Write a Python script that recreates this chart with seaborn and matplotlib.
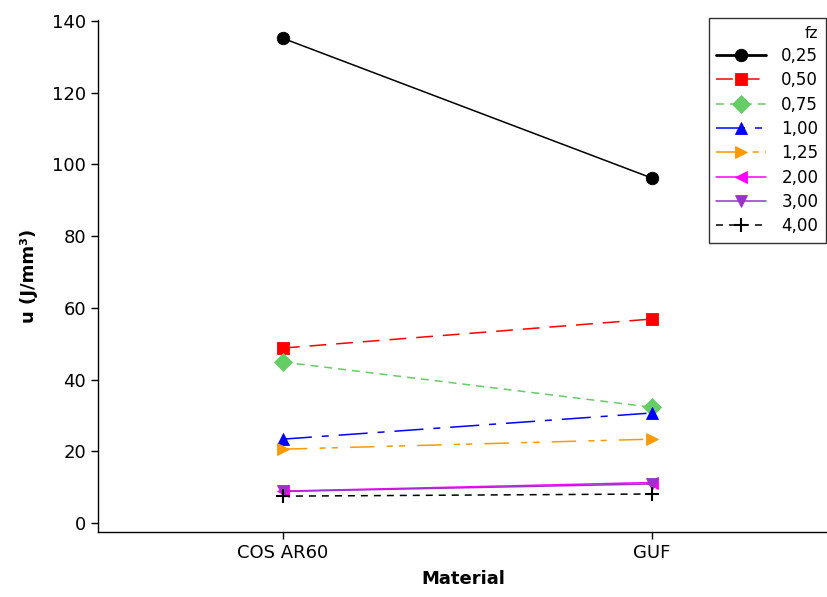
import matplotlib
matplotlib.use("Agg")
import matplotlib.pyplot as plt
import seaborn as sns
import pandas as pd
from matplotlib.lines import Line2D

materials = ["COS AR60", "GUF"]
fz_levels = ["0,25", "0,50", "0,75", "1,00", "1,25", "2,00", "3,00", "4,00"]
u_cos = [135.2, 48.8, 44.9, 23.4, 20.6, 8.9, 8.8, 7.5]
u_guf = [96.2, 56.9, 32.3, 30.7, 23.4, 11.3, 10.9, 8.1]

colors = ["#000000", "#FF0000", "#66CC66", "#0000FF", "#FF9900", "#FF00FF", "#9933CC", "#000000"]
markers = ["o", "s", "D", "^", ">", "<", "v", "+"]
dashes = ["", (11, 6.5), (5.2, 3.9), (19, 6.5, 4.6, 6.5), (16, 8, 4, 4, 4, 8), "", "", (4.6, 3.9)]

rows = []
for lvl, a, b in zip(fz_levels, u_cos, u_guf):
    rows.append({"Material": materials[0], "fz": lvl, "u": a})
    rows.append({"Material": materials[1], "fz": lvl, "u": b})
df = pd.DataFrame(rows)

sns.set_style("white")
plt.rcParams["font.family"] = ["DejaVu Sans"]
plt.rcParams["text.color"] = "black"
plt.rcParams["axes.labelcolor"] = "black"
plt.rcParams["xtick.color"] = "black"
plt.rcParams["ytick.color"] = "black"

fig = plt.figure(figsize=(8.28, 5.97), dpi=100)
ax = fig.add_axes([98 / 828, (597 - 532) / 597, (828 - 98) / 828, (532 - 20) / 597])

LW = 1.1
for lvl, c, m, d in zip(fz_levels, colors, markers, dashes):
    sub = df[df["fz"] == lvl]
    ls = "-" if d == "" else (0, d)
    sns.lineplot(
        data=sub, x="Material", y="u", color=c, marker=m,
        markersize=10 if m == "+" else 9,
        markeredgewidth=1.5 if m == "+" else 0.6,
        markeredgecolor=c, linewidth=LW, linestyle=ls,
        ax=ax, legend=False,
    )

ax.set_xlim(-0.501, 1.477)
ax.set_ylim(-2.5, 140.3)
ax.set_yticks(range(0, 141, 20))
ax.set_xticks([0, 1])
ax.set_xticklabels(materials)
for s in ["top", "right"]:
    ax.spines[s].set_visible(False)
for s in ["left", "bottom"]:
    ax.spines[s].set_color("black")
    ax.spines[s].set_linewidth(1.0)
ax.tick_params(axis="both", which="major", length=5, width=1, color="black",
               labelcolor="black", labelsize=13, direction="out", left=True, bottom=True)
ax.set_xlabel("Material", fontsize=13, fontweight="bold", labelpad=6, color="black")
ax.set_ylabel("u (J/mm³)", fontsize=13, fontweight="bold", labelpad=10, color="black")

# legend handles built from the same style lists
handles = []
for lvl, c, m, d in zip(fz_levels, colors, markers, dashes):
    lw = 2.0 if lvl == "0,25" else LW
    h = Line2D([0], [0], color=c, marker=m, markersize=10 if m == "+" else 9,
               linewidth=lw, linestyle="-" if d == "" else (0, d),
               markeredgewidth=1.5 if m == "+" else 0.6,
               markeredgecolor=c)
    handles.append(h)
leg = fig.legend(handles, fz_levels, title="fz", loc="upper right",
                 bbox_to_anchor=(826 / 828, 1 - 18 / 597), borderaxespad=0,
                 frameon=True, fancybox=False, edgecolor="black",
                 fontsize=12, title_fontsize=11, handlelength=3.0,
                 labelspacing=0.38, borderpad=0.45, handletextpad=0.9)
leg.get_frame().set_linewidth(1.0)
leg._legend_box.align = "right"
for t in leg.get_texts():
    t.set_color("black")

fig.savefig("out.png", dpi=100)
